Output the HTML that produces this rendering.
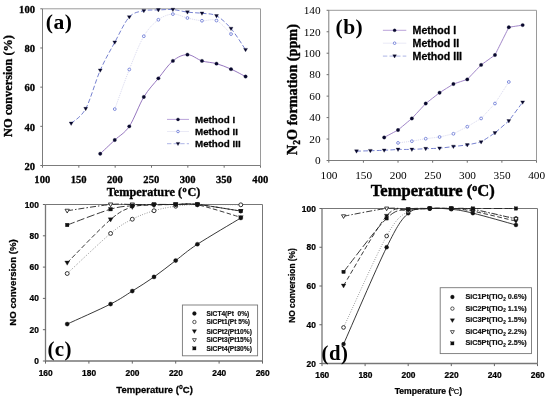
<!DOCTYPE html>
<html><head><meta charset="utf-8"><title>Figure</title>
<style>
html,body{margin:0;padding:0;background:#fff;}
body{width:550px;height:399px;overflow:hidden;font-family:"Liberation Sans",sans-serif;}
svg{display:block;filter:blur(0.35px);}
</style></head><body>
<svg width="550" height="399" viewBox="0 0 550 399">
<rect x="0" y="0" width="550" height="399" fill="#fff"/>
<!-- panel a -->
<path d="M42.5,8.8 H260.5 V165.5" fill="none" stroke="#9a9a9a" stroke-width="1.0"/>
<path d="M42.5,8.8 V165.5 H260.5" fill="none" stroke="#7c7c7c" stroke-width="1.0"/>
<path d="M42.5,165.5 v2.2" stroke="#6e6e6e" stroke-width="1.0"/>
<path d="M78.83,165.5 v2.2" stroke="#6e6e6e" stroke-width="1.0"/>
<path d="M115.17,165.5 v2.2" stroke="#6e6e6e" stroke-width="1.0"/>
<path d="M151.5,165.5 v2.2" stroke="#6e6e6e" stroke-width="1.0"/>
<path d="M187.83,165.5 v2.2" stroke="#6e6e6e" stroke-width="1.0"/>
<path d="M224.17,165.5 v2.2" stroke="#6e6e6e" stroke-width="1.0"/>
<path d="M260.5,165.5 v2.2" stroke="#6e6e6e" stroke-width="1.0"/>
<path d="M42.5,165.5 h-2.2" stroke="#6e6e6e" stroke-width="1.0"/>
<path d="M42.5,126.33 h-2.2" stroke="#6e6e6e" stroke-width="1.0"/>
<path d="M42.5,87.15 h-2.2" stroke="#6e6e6e" stroke-width="1.0"/>
<path d="M42.5,47.98 h-2.2" stroke="#6e6e6e" stroke-width="1.0"/>
<path d="M42.5,8.8 h-2.2" stroke="#6e6e6e" stroke-width="1.0"/>
<path d="M100.23,153.75 C102.66,151.46 109.92,144.61 114.77,140.04 C119.61,135.47 124.46,133.51 129.3,126.33 C134.14,119.14 138.99,104.94 143.83,96.94 C148.68,88.95 153.52,84.34 158.37,78.34 C163.21,72.33 168.06,64.85 172.9,60.9 C177.74,56.95 182.59,54.63 187.43,54.63 C192.28,54.63 197.12,59.4 201.97,60.9 C206.81,62.4 211.66,62.27 216.5,63.65 C221.34,65.02 226.19,66.97 231.03,69.13 C235.88,71.28 243.14,75.33 245.57,76.57" fill="none" stroke="#8a68b8" stroke-width="0.9"/>
<path d="M114.77,109.09 C117.19,102.49 124.46,81.67 129.3,69.52 C134.14,57.38 138.99,44.51 143.83,36.22 C148.68,27.93 153.52,23.46 158.37,19.77 C163.21,16.08 168.06,14.38 172.9,14.09 C177.74,13.79 182.59,16.9 187.43,18.01 C192.28,19.12 197.12,20.32 201.97,20.75 C206.81,21.17 211.66,18.33 216.5,20.55 C221.34,22.77 228.61,31.82 231.03,34.07" fill="none" stroke="#d4d4ec" stroke-width="0.9" stroke-dasharray="1 1"/>
<path d="M71.17,123.39 C73.59,120.94 80.86,117.54 85.7,108.7 C90.54,99.85 95.39,81.37 100.23,70.3 C105.08,59.24 109.92,51.17 114.77,42.29 C119.61,33.41 124.46,22.28 129.3,17.03 C134.14,11.77 138.99,11.93 143.83,10.76 C148.68,9.58 153.52,10.17 158.37,9.98 C163.21,9.78 168.06,9.22 172.9,9.58 C177.74,9.94 182.59,11.51 187.43,12.13 C192.28,12.75 197.12,12.68 201.97,13.31 C206.81,13.93 211.66,13.31 216.5,15.85 C221.34,18.4 226.19,22.94 231.03,28.58 C235.88,34.23 243.14,46.21 245.57,49.74" fill="none" stroke="#5f6bc8" stroke-width="0.85" stroke-dasharray="4.6 2.2"/>
<circle cx="100.23" cy="153.75" r="1.7" fill="#08082c" stroke="#08082c" stroke-width="0.3"/>
<circle cx="114.77" cy="140.04" r="1.7" fill="#08082c" stroke="#08082c" stroke-width="0.3"/>
<circle cx="129.3" cy="126.33" r="1.7" fill="#08082c" stroke="#08082c" stroke-width="0.3"/>
<circle cx="143.83" cy="96.94" r="1.7" fill="#08082c" stroke="#08082c" stroke-width="0.3"/>
<circle cx="158.37" cy="78.34" r="1.7" fill="#08082c" stroke="#08082c" stroke-width="0.3"/>
<circle cx="172.9" cy="60.9" r="1.7" fill="#08082c" stroke="#08082c" stroke-width="0.3"/>
<circle cx="187.43" cy="54.63" r="1.7" fill="#08082c" stroke="#08082c" stroke-width="0.3"/>
<circle cx="201.97" cy="60.9" r="1.7" fill="#08082c" stroke="#08082c" stroke-width="0.3"/>
<circle cx="216.5" cy="63.65" r="1.7" fill="#08082c" stroke="#08082c" stroke-width="0.3"/>
<circle cx="231.03" cy="69.13" r="1.7" fill="#08082c" stroke="#08082c" stroke-width="0.3"/>
<circle cx="245.57" cy="76.57" r="1.7" fill="#08082c" stroke="#08082c" stroke-width="0.3"/>
<circle cx="114.77" cy="109.09" r="1.4" fill="#fff" stroke="#5a6ad0" stroke-width="0.75"/>
<circle cx="129.3" cy="69.52" r="1.4" fill="#fff" stroke="#5a6ad0" stroke-width="0.75"/>
<circle cx="143.83" cy="36.22" r="1.4" fill="#fff" stroke="#5a6ad0" stroke-width="0.75"/>
<circle cx="158.37" cy="19.77" r="1.4" fill="#fff" stroke="#5a6ad0" stroke-width="0.75"/>
<circle cx="172.9" cy="14.09" r="1.4" fill="#fff" stroke="#5a6ad0" stroke-width="0.75"/>
<circle cx="187.43" cy="18.01" r="1.4" fill="#fff" stroke="#5a6ad0" stroke-width="0.75"/>
<circle cx="201.97" cy="20.75" r="1.4" fill="#fff" stroke="#5a6ad0" stroke-width="0.75"/>
<circle cx="216.5" cy="20.55" r="1.4" fill="#fff" stroke="#5a6ad0" stroke-width="0.75"/>
<circle cx="231.03" cy="34.07" r="1.4" fill="#fff" stroke="#5a6ad0" stroke-width="0.75"/>
<path d="M69.21,122.03 L73.12,122.03 L71.17,125.43 Z" fill="#08082c" stroke="#08082c" stroke-width="0.3"/>
<path d="M83.74,107.34 L87.65,107.34 L85.7,110.74 Z" fill="#08082c" stroke="#08082c" stroke-width="0.3"/>
<path d="M98.28,68.94 L102.19,68.94 L100.23,72.34 Z" fill="#08082c" stroke="#08082c" stroke-width="0.3"/>
<path d="M112.81,40.93 L116.72,40.93 L114.77,44.33 Z" fill="#08082c" stroke="#08082c" stroke-width="0.3"/>
<path d="M127.34,15.67 L131.25,15.67 L129.3,19.07 Z" fill="#08082c" stroke="#08082c" stroke-width="0.3"/>
<path d="M141.88,9.4 L145.79,9.4 L143.83,12.8 Z" fill="#08082c" stroke="#08082c" stroke-width="0.3"/>
<path d="M156.41,8.62 L160.32,8.62 L158.37,12.02 Z" fill="#08082c" stroke="#08082c" stroke-width="0.3"/>
<path d="M170.94,8.22 L174.85,8.22 L172.9,11.62 Z" fill="#08082c" stroke="#08082c" stroke-width="0.3"/>
<path d="M185.48,10.77 L189.39,10.77 L187.43,14.17 Z" fill="#08082c" stroke="#08082c" stroke-width="0.3"/>
<path d="M200.01,11.95 L203.92,11.95 L201.97,15.35 Z" fill="#08082c" stroke="#08082c" stroke-width="0.3"/>
<path d="M214.54,14.49 L218.46,14.49 L216.5,17.89 Z" fill="#08082c" stroke="#08082c" stroke-width="0.3"/>
<path d="M229.08,27.22 L232.99,27.22 L231.03,30.62 Z" fill="#08082c" stroke="#08082c" stroke-width="0.3"/>
<path d="M243.61,48.38 L247.52,48.38 L245.57,51.78 Z" fill="#08082c" stroke="#08082c" stroke-width="0.3"/>
<path d="M167,119.4 H189" stroke="#a88cd0" stroke-width="0.8"/>
<path d="M167,131.5 H189" stroke="#e4e4f4" stroke-width="0.8"/>
<path d="M167,143.7 H189" stroke="#98a2e0" stroke-width="0.8" stroke-dasharray="4.4 2.2"/>
<circle cx="178" cy="119.4" r="1.5" fill="#08082c" stroke="#08082c" stroke-width="0.3"/>
<circle cx="178" cy="131.5" r="1.3" fill="#fff" stroke="#5a6ad0" stroke-width="0.75"/>
<path d="M176.16,142.42 L179.84,142.42 L178,145.62 Z" fill="#08082c" stroke="#08082c" stroke-width="0.3"/>
<text x="195" y="122.93" font-family='"Liberation Sans", sans-serif' font-size="9.8" font-weight="bold" text-anchor="start" fill="#000" stroke="#000" stroke-width="0.27" stroke-linejoin="round" >Method I</text>
<text x="195" y="135.03" font-family='"Liberation Sans", sans-serif' font-size="9.8" font-weight="bold" text-anchor="start" fill="#000" stroke="#000" stroke-width="0.27" stroke-linejoin="round" >Method II</text>
<text x="195" y="147.23" font-family='"Liberation Sans", sans-serif' font-size="9.8" font-weight="bold" text-anchor="start" fill="#000" stroke="#000" stroke-width="0.27" stroke-linejoin="round" >Method III</text>
<text x="42.3" y="183.2" font-family='"Liberation Serif", serif' font-size="10.6" font-weight="bold" text-anchor="middle" fill="#000" stroke="#000" stroke-width="0.3" stroke-linejoin="round" >100</text>
<text x="78.63" y="183.2" font-family='"Liberation Serif", serif' font-size="10.6" font-weight="bold" text-anchor="middle" fill="#000" stroke="#000" stroke-width="0.3" stroke-linejoin="round" >150</text>
<text x="114.97" y="183.2" font-family='"Liberation Serif", serif' font-size="10.6" font-weight="bold" text-anchor="middle" fill="#000" stroke="#000" stroke-width="0.3" stroke-linejoin="round" >200</text>
<text x="151.3" y="183.2" font-family='"Liberation Serif", serif' font-size="10.6" font-weight="bold" text-anchor="middle" fill="#000" stroke="#000" stroke-width="0.3" stroke-linejoin="round" >250</text>
<text x="187.63" y="183.2" font-family='"Liberation Serif", serif' font-size="10.6" font-weight="bold" text-anchor="middle" fill="#000" stroke="#000" stroke-width="0.3" stroke-linejoin="round" >300</text>
<text x="223.97" y="183.2" font-family='"Liberation Serif", serif' font-size="10.6" font-weight="bold" text-anchor="middle" fill="#000" stroke="#000" stroke-width="0.3" stroke-linejoin="round" >350</text>
<text x="260.3" y="183.2" font-family='"Liberation Serif", serif' font-size="10.6" font-weight="bold" text-anchor="middle" fill="#000" stroke="#000" stroke-width="0.3" stroke-linejoin="round" >400</text>
<text x="35" y="169.8" font-family='"Liberation Serif", serif' font-size="10.6" font-weight="bold" text-anchor="end" fill="#000" stroke="#000" stroke-width="0.3" stroke-linejoin="round" >20</text>
<text x="35" y="130.62" font-family='"Liberation Serif", serif' font-size="10.6" font-weight="bold" text-anchor="end" fill="#000" stroke="#000" stroke-width="0.3" stroke-linejoin="round" >40</text>
<text x="35" y="91.45" font-family='"Liberation Serif", serif' font-size="10.6" font-weight="bold" text-anchor="end" fill="#000" stroke="#000" stroke-width="0.3" stroke-linejoin="round" >60</text>
<text x="35" y="52.28" font-family='"Liberation Serif", serif' font-size="10.6" font-weight="bold" text-anchor="end" fill="#000" stroke="#000" stroke-width="0.3" stroke-linejoin="round" >80</text>
<text x="35" y="13.1" font-family='"Liberation Serif", serif' font-size="10.6" font-weight="bold" text-anchor="end" fill="#000" stroke="#000" stroke-width="0.3" stroke-linejoin="round" >100</text>
<text x="153.6" y="196.2" font-family='"Liberation Serif", serif' font-size="12.25" font-weight="bold" text-anchor="middle" fill="#000" stroke="#000" stroke-width="0.34" stroke-linejoin="round" >Temperature (<tspan font-size="8.2" dy="-4.6" dx="0.6">o</tspan><tspan dy="4.6" dx="0.8">C)</tspan></text>
<text x="11.6" y="86" font-family='"Liberation Serif", serif' font-size="12.3" font-weight="bold" text-anchor="middle" fill="#000" stroke="#000" stroke-width="0.34" stroke-linejoin="round" transform="rotate(-90 11.6 86)" >NO conversion (%)</text>
<text x="45.8" y="28.5" font-family='"Liberation Serif", serif' font-size="21.6" font-weight="bold" text-anchor="start" fill="#000" letter-spacing="0.45" >(a)</text>
<!-- panel b -->
<path d="M328.8,10.3 H536.5 V160.5" fill="none" stroke="#9a9a9a" stroke-width="1.0"/>
<path d="M328.8,10.3 V160.5 H536.5" fill="none" stroke="#7c7c7c" stroke-width="1.0"/>
<path d="M328.8,160.5 v2.2" stroke="#6e6e6e" stroke-width="1.0"/>
<path d="M363.42,160.5 v2.2" stroke="#6e6e6e" stroke-width="1.0"/>
<path d="M398.03,160.5 v2.2" stroke="#6e6e6e" stroke-width="1.0"/>
<path d="M432.65,160.5 v2.2" stroke="#6e6e6e" stroke-width="1.0"/>
<path d="M467.27,160.5 v2.2" stroke="#6e6e6e" stroke-width="1.0"/>
<path d="M501.88,160.5 v2.2" stroke="#6e6e6e" stroke-width="1.0"/>
<path d="M536.5,160.5 v2.2" stroke="#6e6e6e" stroke-width="1.0"/>
<path d="M328.8,160.5 h-2.2" stroke="#6e6e6e" stroke-width="1.0"/>
<path d="M328.8,139.04 h-2.2" stroke="#6e6e6e" stroke-width="1.0"/>
<path d="M328.8,117.59 h-2.2" stroke="#6e6e6e" stroke-width="1.0"/>
<path d="M328.8,96.13 h-2.2" stroke="#6e6e6e" stroke-width="1.0"/>
<path d="M328.8,74.67 h-2.2" stroke="#6e6e6e" stroke-width="1.0"/>
<path d="M328.8,53.21 h-2.2" stroke="#6e6e6e" stroke-width="1.0"/>
<path d="M328.8,31.76 h-2.2" stroke="#6e6e6e" stroke-width="1.0"/>
<path d="M328.8,10.3 h-2.2" stroke="#6e6e6e" stroke-width="1.0"/>
<path d="M384.19,137.43 C384.19,137.43 398.03,130.03 398.03,130.03 C398.03,130.03 411.88,118.44 411.88,118.44 C411.88,118.44 425.73,103.53 425.73,103.53 C425.73,103.53 439.57,92.7 439.57,92.7 C439.57,92.7 453.42,84.01 453.42,84.01 C453.42,84.01 467.27,79.39 467.27,79.39 C467.27,79.39 481.11,64.91 481.11,64.91 C481.11,64.91 494.96,55.04 494.96,55.04 C494.96,55.04 508.81,27.25 508.81,27.25 C508.81,27.25 522.65,25.11 522.65,25.11" fill="none" stroke="#9678c2" stroke-width="0.9"/>
<path d="M398.03,142.91 C398.03,142.91 411.88,141.19 411.88,141.19 C411.88,141.19 425.73,138.72 425.73,138.72 C425.73,138.72 439.57,137 439.57,137 C439.57,137 453.42,133.79 453.42,133.79 C453.42,133.79 467.27,126.7 467.27,126.7 C467.27,126.7 481.11,118.44 481.11,118.44 C481.11,118.44 494.96,103.53 494.96,103.53 C494.96,103.53 508.81,81.97 508.81,81.97" fill="none" stroke="#d4d4ec" stroke-width="0.9" stroke-dasharray="1 1"/>
<path d="M356.49,151.17 C356.49,151.17 370.34,150.74 370.34,150.74 C370.34,150.74 384.19,150.31 384.19,150.31 C384.19,150.31 398.03,149.45 398.03,149.45 C398.03,149.45 411.88,149.45 411.88,149.45 C411.88,149.45 425.73,148.7 425.73,148.7 C425.73,148.7 439.57,148.27 439.57,148.27 C439.57,148.27 453.42,146.55 453.42,146.55 C453.42,146.55 467.27,144.94 467.27,144.94 C467.27,144.94 481.11,142.05 481.11,142.05 C481.11,142.05 494.96,132.93 494.96,132.93 C494.96,132.93 508.81,120.91 508.81,120.91 C508.81,120.91 522.65,102.24 522.65,102.24" fill="none" stroke="#5f6bc8" stroke-width="0.85" stroke-dasharray="4.6 2.2"/>
<circle cx="384.19" cy="137.43" r="1.7" fill="#08082c" stroke="#08082c" stroke-width="0.3"/>
<circle cx="398.03" cy="130.03" r="1.7" fill="#08082c" stroke="#08082c" stroke-width="0.3"/>
<circle cx="411.88" cy="118.44" r="1.7" fill="#08082c" stroke="#08082c" stroke-width="0.3"/>
<circle cx="425.73" cy="103.53" r="1.7" fill="#08082c" stroke="#08082c" stroke-width="0.3"/>
<circle cx="439.57" cy="92.7" r="1.7" fill="#08082c" stroke="#08082c" stroke-width="0.3"/>
<circle cx="453.42" cy="84.01" r="1.7" fill="#08082c" stroke="#08082c" stroke-width="0.3"/>
<circle cx="467.27" cy="79.39" r="1.7" fill="#08082c" stroke="#08082c" stroke-width="0.3"/>
<circle cx="481.11" cy="64.91" r="1.7" fill="#08082c" stroke="#08082c" stroke-width="0.3"/>
<circle cx="494.96" cy="55.04" r="1.7" fill="#08082c" stroke="#08082c" stroke-width="0.3"/>
<circle cx="508.81" cy="27.25" r="1.7" fill="#08082c" stroke="#08082c" stroke-width="0.3"/>
<circle cx="522.65" cy="25.11" r="1.7" fill="#08082c" stroke="#08082c" stroke-width="0.3"/>
<circle cx="398.03" cy="142.91" r="1.4" fill="#fff" stroke="#5a6ad0" stroke-width="0.75"/>
<circle cx="411.88" cy="141.19" r="1.4" fill="#fff" stroke="#5a6ad0" stroke-width="0.75"/>
<circle cx="425.73" cy="138.72" r="1.4" fill="#fff" stroke="#5a6ad0" stroke-width="0.75"/>
<circle cx="439.57" cy="137" r="1.4" fill="#fff" stroke="#5a6ad0" stroke-width="0.75"/>
<circle cx="453.42" cy="133.79" r="1.4" fill="#fff" stroke="#5a6ad0" stroke-width="0.75"/>
<circle cx="467.27" cy="126.7" r="1.4" fill="#fff" stroke="#5a6ad0" stroke-width="0.75"/>
<circle cx="481.11" cy="118.44" r="1.4" fill="#fff" stroke="#5a6ad0" stroke-width="0.75"/>
<circle cx="494.96" cy="103.53" r="1.4" fill="#fff" stroke="#5a6ad0" stroke-width="0.75"/>
<circle cx="508.81" cy="81.97" r="1.4" fill="#fff" stroke="#5a6ad0" stroke-width="0.75"/>
<path d="M354.54,149.81 L358.45,149.81 L356.49,153.21 Z" fill="#08082c" stroke="#08082c" stroke-width="0.3"/>
<path d="M368.39,149.38 L372.3,149.38 L370.34,152.78 Z" fill="#08082c" stroke="#08082c" stroke-width="0.3"/>
<path d="M382.23,148.95 L386.14,148.95 L384.19,152.35 Z" fill="#08082c" stroke="#08082c" stroke-width="0.3"/>
<path d="M396.08,148.09 L399.99,148.09 L398.03,151.49 Z" fill="#08082c" stroke="#08082c" stroke-width="0.3"/>
<path d="M409.93,148.09 L413.83,148.09 L411.88,151.49 Z" fill="#08082c" stroke="#08082c" stroke-width="0.3"/>
<path d="M423.77,147.34 L427.68,147.34 L425.73,150.74 Z" fill="#08082c" stroke="#08082c" stroke-width="0.3"/>
<path d="M437.62,146.91 L441.53,146.91 L439.57,150.31 Z" fill="#08082c" stroke="#08082c" stroke-width="0.3"/>
<path d="M451.47,145.19 L455.38,145.19 L453.42,148.59 Z" fill="#08082c" stroke="#08082c" stroke-width="0.3"/>
<path d="M465.31,143.58 L469.22,143.58 L467.27,146.98 Z" fill="#08082c" stroke="#08082c" stroke-width="0.3"/>
<path d="M479.16,140.69 L483.07,140.69 L481.11,144.09 Z" fill="#08082c" stroke="#08082c" stroke-width="0.3"/>
<path d="M493.01,131.57 L496.92,131.57 L494.96,134.97 Z" fill="#08082c" stroke="#08082c" stroke-width="0.3"/>
<path d="M506.85,119.55 L510.76,119.55 L508.81,122.95 Z" fill="#08082c" stroke="#08082c" stroke-width="0.3"/>
<path d="M520.7,100.88 L524.61,100.88 L522.65,104.28 Z" fill="#08082c" stroke="#08082c" stroke-width="0.3"/>
<path d="M382.9,30.3 H406.3" stroke="#a88cd0" stroke-width="0.8"/>
<path d="M382.9,43.2 H406.3" stroke="#e4e4f4" stroke-width="0.8"/>
<path d="M382.9,56.1 H406.3" stroke="#98a2e0" stroke-width="0.8" stroke-dasharray="4.4 2.2"/>
<circle cx="394.6" cy="30.3" r="1.5" fill="#08082c" stroke="#08082c" stroke-width="0.3"/>
<circle cx="394.6" cy="43.2" r="1.3" fill="#fff" stroke="#5a6ad0" stroke-width="0.75"/>
<path d="M392.76,54.82 L396.44,54.82 L394.6,58.02 Z" fill="#08082c" stroke="#08082c" stroke-width="0.3"/>
<text x="412.6" y="34.12" font-family='"Liberation Sans", sans-serif' font-size="10.6" font-weight="bold" text-anchor="start" fill="#000" stroke="#000" stroke-width="0.3" stroke-linejoin="round" >Method I</text>
<text x="412.6" y="47.02" font-family='"Liberation Sans", sans-serif' font-size="10.6" font-weight="bold" text-anchor="start" fill="#000" stroke="#000" stroke-width="0.3" stroke-linejoin="round" >Method II</text>
<text x="412.6" y="59.92" font-family='"Liberation Sans", sans-serif' font-size="10.6" font-weight="bold" text-anchor="start" fill="#000" stroke="#000" stroke-width="0.3" stroke-linejoin="round" >Method III</text>
<text x="329" y="178.9" font-family='"Liberation Serif", serif' font-size="11.3" font-weight="normal" text-anchor="middle" fill="#000" >100</text>
<text x="363.62" y="178.9" font-family='"Liberation Serif", serif' font-size="11.3" font-weight="normal" text-anchor="middle" fill="#000" >150</text>
<text x="398.23" y="178.9" font-family='"Liberation Serif", serif' font-size="11.3" font-weight="normal" text-anchor="middle" fill="#000" >200</text>
<text x="432.85" y="178.9" font-family='"Liberation Serif", serif' font-size="11.3" font-weight="normal" text-anchor="middle" fill="#000" >250</text>
<text x="467.47" y="178.9" font-family='"Liberation Serif", serif' font-size="11.3" font-weight="normal" text-anchor="middle" fill="#000" >300</text>
<text x="502.08" y="178.9" font-family='"Liberation Serif", serif' font-size="11.3" font-weight="normal" text-anchor="middle" fill="#000" >350</text>
<text x="536.7" y="178.9" font-family='"Liberation Serif", serif' font-size="11.3" font-weight="normal" text-anchor="middle" fill="#000" >400</text>
<text x="320.6" y="164.3" font-family='"Liberation Serif", serif' font-size="11.3" font-weight="normal" text-anchor="end" fill="#000" >0</text>
<text x="320.6" y="142.84" font-family='"Liberation Serif", serif' font-size="11.3" font-weight="normal" text-anchor="end" fill="#000" >20</text>
<text x="320.6" y="121.39" font-family='"Liberation Serif", serif' font-size="11.3" font-weight="normal" text-anchor="end" fill="#000" >40</text>
<text x="320.6" y="99.93" font-family='"Liberation Serif", serif' font-size="11.3" font-weight="normal" text-anchor="end" fill="#000" >60</text>
<text x="320.6" y="78.47" font-family='"Liberation Serif", serif' font-size="11.3" font-weight="normal" text-anchor="end" fill="#000" >80</text>
<text x="320.6" y="57.01" font-family='"Liberation Serif", serif' font-size="11.3" font-weight="normal" text-anchor="end" fill="#000" >100</text>
<text x="320.6" y="35.56" font-family='"Liberation Serif", serif' font-size="11.3" font-weight="normal" text-anchor="end" fill="#000" >120</text>
<text x="320.6" y="14.1" font-family='"Liberation Serif", serif' font-size="11.3" font-weight="normal" text-anchor="end" fill="#000" >140</text>
<text x="432.8" y="196.4" font-family='"Liberation Serif", serif' font-size="16.55" font-weight="bold" text-anchor="middle" fill="#000" stroke="#000" stroke-width="0.46" stroke-linejoin="round" >Temperature (<tspan font-size="10" dy="-5">o</tspan><tspan dy="5">C)</tspan></text>
<text x="297" y="89.5" font-family='"Liberation Serif", serif' font-size="14.2" font-weight="bold" text-anchor="middle" fill="#000" stroke="#000" stroke-width="0.4" stroke-linejoin="round" transform="rotate(-90 297 89.5)" >N<tspan font-size="9.5" dy="3">2</tspan><tspan dy="-3">O formation (ppm)</tspan></text>
<text x="335.6" y="34" font-family='"Liberation Serif", serif' font-size="21.5" font-weight="bold" text-anchor="start" fill="#000" letter-spacing="0.45" >(b)</text>
<!-- panel c -->
<path d="M45.5,204.5 H262.5 V361" fill="none" stroke="#777" stroke-width="1.0"/>
<path d="M45.5,204.5 V361 H262.5" fill="none" stroke="#777" stroke-width="1.3"/>
<path d="M45.5,361 v2.6" stroke="#666" stroke-width="1.0"/>
<path d="M88.9,361 v2.6" stroke="#666" stroke-width="1.0"/>
<path d="M132.3,361 v2.6" stroke="#666" stroke-width="1.0"/>
<path d="M175.7,361 v2.6" stroke="#666" stroke-width="1.0"/>
<path d="M219.1,361 v2.6" stroke="#666" stroke-width="1.0"/>
<path d="M262.5,361 v2.6" stroke="#666" stroke-width="1.0"/>
<path d="M45.5,361 h-2.6" stroke="#666" stroke-width="1.0"/>
<path d="M45.5,329.7 h-2.6" stroke="#666" stroke-width="1.0"/>
<path d="M45.5,298.4 h-2.6" stroke="#666" stroke-width="1.0"/>
<path d="M45.5,267.1 h-2.6" stroke="#666" stroke-width="1.0"/>
<path d="M45.5,235.8 h-2.6" stroke="#666" stroke-width="1.0"/>
<path d="M45.5,204.5 h-2.6" stroke="#666" stroke-width="1.0"/>
<path d="M67.2,324.07 C74.43,320.73 99.75,309.54 110.6,304.03 C121.45,298.53 125.07,295.56 132.3,291.04 C139.53,286.53 146.77,282.05 154,276.96 C161.23,271.87 168.47,265.98 175.7,260.53 C182.93,255.08 186.55,251.35 197.4,244.25 C208.25,237.16 233.57,222.34 240.8,217.96" fill="none" stroke="#222" stroke-width="0.9"/>
<path d="M67.2,273.52 C74.43,266.84 99.75,242.5 110.6,233.45 C121.45,224.4 125.07,222.99 132.3,219.21 C139.53,215.43 146.77,212.92 154,210.76 C161.23,208.6 168.47,207.26 175.7,206.22 C182.93,205.18 186.55,204.73 197.4,204.5 C208.25,204.27 233.57,204.76 240.8,204.81" fill="none" stroke="#777" stroke-width="0.9" stroke-dasharray="0.8 1.6"/>
<path d="M67.2,262.72 C74.43,255.52 99.75,228.81 110.6,219.52 C121.45,210.24 125.07,209.4 132.3,207 C139.53,204.6 146.77,205.54 154,205.13 C161.23,204.71 168.47,204.55 175.7,204.5 C182.93,204.45 186.55,202.67 197.4,204.81 C208.25,206.95 233.57,215.25 240.8,217.33" fill="none" stroke="#222" stroke-width="0.9" stroke-dasharray="4.6 2.4"/>
<path d="M67.2,210.76 C74.43,209.72 99.75,205.54 110.6,204.5 C121.45,203.46 125.07,204.5 132.3,204.5 C139.53,204.5 146.77,204.5 154,204.5 C161.23,204.5 168.47,204.5 175.7,204.5 C182.93,204.5 186.55,203.4 197.4,204.5 C208.25,205.6 233.57,209.98 240.8,211.07" fill="none" stroke="#222" stroke-width="0.9" stroke-dasharray="6 2 1.5 2"/>
<path d="M67.2,225 C74.43,222.37 99.75,212.4 110.6,209.19 C121.45,205.99 125.07,206.53 132.3,205.75 C139.53,204.97 146.77,204.71 154,204.5 C161.23,204.29 168.47,204.5 175.7,204.5 C182.93,204.5 186.55,203.4 197.4,204.5 C208.25,205.6 233.57,209.98 240.8,211.07" fill="none" stroke="#222" stroke-width="0.9" stroke-dasharray="8 2.5"/>
<circle cx="67.2" cy="324.07" r="2.1" fill="#111" stroke="#111" stroke-width="0.3"/>
<circle cx="110.6" cy="304.03" r="2.1" fill="#111" stroke="#111" stroke-width="0.3"/>
<circle cx="132.3" cy="291.04" r="2.1" fill="#111" stroke="#111" stroke-width="0.3"/>
<circle cx="154" cy="276.96" r="2.1" fill="#111" stroke="#111" stroke-width="0.3"/>
<circle cx="175.7" cy="260.53" r="2.1" fill="#111" stroke="#111" stroke-width="0.3"/>
<circle cx="197.4" cy="244.25" r="2.1" fill="#111" stroke="#111" stroke-width="0.3"/>
<circle cx="240.8" cy="217.96" r="2.1" fill="#111" stroke="#111" stroke-width="0.3"/>
<circle cx="67.2" cy="273.52" r="1.95" fill="#fff" stroke="#111" stroke-width="0.85"/>
<circle cx="110.6" cy="233.45" r="1.95" fill="#fff" stroke="#111" stroke-width="0.85"/>
<circle cx="132.3" cy="219.21" r="1.95" fill="#fff" stroke="#111" stroke-width="0.85"/>
<circle cx="154" cy="210.76" r="1.95" fill="#fff" stroke="#111" stroke-width="0.85"/>
<circle cx="175.7" cy="206.22" r="1.95" fill="#fff" stroke="#111" stroke-width="0.85"/>
<circle cx="197.4" cy="204.5" r="1.95" fill="#fff" stroke="#111" stroke-width="0.85"/>
<circle cx="240.8" cy="204.81" r="1.95" fill="#fff" stroke="#111" stroke-width="0.85"/>
<path d="M64.78,261.04 L69.62,261.04 L67.2,265.24 Z" fill="#111" stroke="#111" stroke-width="0.3"/>
<path d="M108.18,217.84 L113.02,217.84 L110.6,222.04 Z" fill="#111" stroke="#111" stroke-width="0.3"/>
<path d="M129.89,205.32 L134.72,205.32 L132.3,209.52 Z" fill="#111" stroke="#111" stroke-width="0.3"/>
<path d="M151.59,203.45 L156.41,203.45 L154,207.65 Z" fill="#111" stroke="#111" stroke-width="0.3"/>
<path d="M173.28,202.82 L178.11,202.82 L175.7,207.02 Z" fill="#111" stroke="#111" stroke-width="0.3"/>
<path d="M194.98,203.13 L199.81,203.13 L197.4,207.33 Z" fill="#111" stroke="#111" stroke-width="0.3"/>
<path d="M238.39,215.65 L243.22,215.65 L240.8,219.85 Z" fill="#111" stroke="#111" stroke-width="0.3"/>
<path d="M65.02,209.24 L69.39,209.24 L67.2,213.04 Z" fill="#fff" stroke="#111" stroke-width="0.8"/>
<path d="M108.41,202.98 L112.78,202.98 L110.6,206.78 Z" fill="#fff" stroke="#111" stroke-width="0.8"/>
<path d="M130.12,202.98 L134.49,202.98 L132.3,206.78 Z" fill="#fff" stroke="#111" stroke-width="0.8"/>
<path d="M151.81,202.98 L156.19,202.98 L154,206.78 Z" fill="#fff" stroke="#111" stroke-width="0.8"/>
<path d="M173.51,202.98 L177.88,202.98 L175.7,206.78 Z" fill="#fff" stroke="#111" stroke-width="0.8"/>
<path d="M195.21,202.98 L199.58,202.98 L197.4,206.78 Z" fill="#fff" stroke="#111" stroke-width="0.8"/>
<path d="M238.62,209.55 L242.99,209.55 L240.8,213.35 Z" fill="#fff" stroke="#111" stroke-width="0.8"/>
<rect x="65.4" y="223.2" width="3.6" height="3.6" fill="#111" stroke="#111" stroke-width="0.3"/>
<rect x="108.8" y="207.39" width="3.6" height="3.6" fill="#111" stroke="#111" stroke-width="0.3"/>
<rect x="130.5" y="203.95" width="3.6" height="3.6" fill="#111" stroke="#111" stroke-width="0.3"/>
<rect x="152.2" y="202.7" width="3.6" height="3.6" fill="#111" stroke="#111" stroke-width="0.3"/>
<rect x="173.9" y="202.7" width="3.6" height="3.6" fill="#111" stroke="#111" stroke-width="0.3"/>
<rect x="195.6" y="202.7" width="3.6" height="3.6" fill="#111" stroke="#111" stroke-width="0.3"/>
<rect x="239" y="209.27" width="3.6" height="3.6" fill="#111" stroke="#111" stroke-width="0.3"/>
<rect x="182.4" y="305" width="75.2" height="50.8" fill="#fff" stroke="#777" stroke-width="0.9"/>
<circle cx="194.4" cy="313.5" r="1.9" fill="#111" stroke="#111" stroke-width="0.3"/>
<text x="206.4" y="315.88" font-family='"Liberation Sans", sans-serif' font-size="6.6" font-weight="bold" text-anchor="start" fill="#111" stroke="#111" stroke-width="0.18" stroke-linejoin="round" >SiCT4(Pt&#160; 0%)</text>
<circle cx="194.4" cy="322" r="1.7" fill="#fff" stroke="#111" stroke-width="0.7"/>
<text x="206.4" y="324.38" font-family='"Liberation Sans", sans-serif' font-size="6.6" font-weight="bold" text-anchor="start" fill="#111" stroke="#111" stroke-width="0.18" stroke-linejoin="round" >SiCPt1(Pt 5%)</text>
<path d="M192.22,329.68 L196.59,329.68 L194.4,333.48 Z" fill="#111" stroke="#111" stroke-width="0.3"/>
<text x="206.4" y="333.58" font-family='"Liberation Sans", sans-serif' font-size="6.6" font-weight="bold" text-anchor="start" fill="#111" stroke="#111" stroke-width="0.18" stroke-linejoin="round" >SiCPt2(Pt10%)</text>
<path d="M192.44,338.64 L196.36,338.64 L194.4,342.04 Z" fill="#fff" stroke="#111" stroke-width="0.7"/>
<text x="206.4" y="342.38" font-family='"Liberation Sans", sans-serif' font-size="6.6" font-weight="bold" text-anchor="start" fill="#111" stroke="#111" stroke-width="0.18" stroke-linejoin="round" >SiCPt3(Pt15%)</text>
<rect x="192.8" y="346.8" width="3.2" height="3.2" fill="#111" stroke="#111" stroke-width="0.3"/>
<text x="206.4" y="350.78" font-family='"Liberation Sans", sans-serif' font-size="6.6" font-weight="bold" text-anchor="start" fill="#111" stroke="#111" stroke-width="0.18" stroke-linejoin="round" >SiCPt4(Pt30%)</text>
<text x="45.7" y="376" font-family='"Liberation Sans", sans-serif' font-size="8.4" font-weight="bold" text-anchor="middle" fill="#000" stroke="#000" stroke-width="0.24" stroke-linejoin="round" >160</text>
<text x="89.1" y="376" font-family='"Liberation Sans", sans-serif' font-size="8.4" font-weight="bold" text-anchor="middle" fill="#000" stroke="#000" stroke-width="0.24" stroke-linejoin="round" >180</text>
<text x="132.5" y="376" font-family='"Liberation Sans", sans-serif' font-size="8.4" font-weight="bold" text-anchor="middle" fill="#000" stroke="#000" stroke-width="0.24" stroke-linejoin="round" >200</text>
<text x="175.9" y="376" font-family='"Liberation Sans", sans-serif' font-size="8.4" font-weight="bold" text-anchor="middle" fill="#000" stroke="#000" stroke-width="0.24" stroke-linejoin="round" >220</text>
<text x="219.3" y="376" font-family='"Liberation Sans", sans-serif' font-size="8.4" font-weight="bold" text-anchor="middle" fill="#000" stroke="#000" stroke-width="0.24" stroke-linejoin="round" >240</text>
<text x="262.7" y="376" font-family='"Liberation Sans", sans-serif' font-size="8.4" font-weight="bold" text-anchor="middle" fill="#000" stroke="#000" stroke-width="0.24" stroke-linejoin="round" >260</text>
<text x="38.8" y="364" font-family='"Liberation Sans", sans-serif' font-size="8.4" font-weight="bold" text-anchor="end" fill="#000" stroke="#000" stroke-width="0.24" stroke-linejoin="round" >0</text>
<text x="38.8" y="332.7" font-family='"Liberation Sans", sans-serif' font-size="8.4" font-weight="bold" text-anchor="end" fill="#000" stroke="#000" stroke-width="0.24" stroke-linejoin="round" >20</text>
<text x="38.8" y="301.4" font-family='"Liberation Sans", sans-serif' font-size="8.4" font-weight="bold" text-anchor="end" fill="#000" stroke="#000" stroke-width="0.24" stroke-linejoin="round" >40</text>
<text x="38.8" y="270.1" font-family='"Liberation Sans", sans-serif' font-size="8.4" font-weight="bold" text-anchor="end" fill="#000" stroke="#000" stroke-width="0.24" stroke-linejoin="round" >60</text>
<text x="38.8" y="238.8" font-family='"Liberation Sans", sans-serif' font-size="8.4" font-weight="bold" text-anchor="end" fill="#000" stroke="#000" stroke-width="0.24" stroke-linejoin="round" >80</text>
<text x="38.8" y="207.5" font-family='"Liberation Sans", sans-serif' font-size="8.4" font-weight="bold" text-anchor="end" fill="#000" stroke="#000" stroke-width="0.24" stroke-linejoin="round" >100</text>
<text x="154.6" y="393" font-family='"Liberation Sans", sans-serif' font-size="9.5" font-weight="bold" text-anchor="middle" fill="#000" stroke="#000" stroke-width="0.27" stroke-linejoin="round" >Temperature (<tspan font-size="6.3" dy="-4.0">o</tspan><tspan dy="4.0">C)</tspan></text>
<text x="16.4" y="282.5" font-family='"Liberation Sans", sans-serif' font-size="9.7" font-weight="bold" text-anchor="middle" fill="#000" stroke="#000" stroke-width="0.27" stroke-linejoin="round" transform="rotate(-90 16.4 282.5)" >NO conversion (%)</text>
<text x="47.4" y="355.8" font-family='"Liberation Serif", serif' font-size="21" font-weight="bold" text-anchor="start" fill="#000" letter-spacing="0.45" >(c)</text>
<!-- panel d -->
<path d="M322,208.5 H537.5 V363.5" fill="none" stroke="#777" stroke-width="1.0"/>
<path d="M322,208.5 V363.5 H537.5" fill="none" stroke="#777" stroke-width="1.3"/>
<path d="M322,363.5 v2.6" stroke="#666" stroke-width="1.0"/>
<path d="M365.1,363.5 v2.6" stroke="#666" stroke-width="1.0"/>
<path d="M408.2,363.5 v2.6" stroke="#666" stroke-width="1.0"/>
<path d="M451.3,363.5 v2.6" stroke="#666" stroke-width="1.0"/>
<path d="M494.4,363.5 v2.6" stroke="#666" stroke-width="1.0"/>
<path d="M537.5,363.5 v2.6" stroke="#666" stroke-width="1.0"/>
<path d="M322,363.5 h-2.6" stroke="#666" stroke-width="1.0"/>
<path d="M322,324.75 h-2.6" stroke="#666" stroke-width="1.0"/>
<path d="M322,286 h-2.6" stroke="#666" stroke-width="1.0"/>
<path d="M322,247.25 h-2.6" stroke="#666" stroke-width="1.0"/>
<path d="M322,208.5 h-2.6" stroke="#666" stroke-width="1.0"/>
<path d="M343.55,344.12 C350.73,327.98 375.88,269.05 386.65,247.25 C397.42,225.45 401.02,219.8 408.2,213.34 C415.38,206.89 422.57,209.18 429.75,208.5 C436.93,207.82 444.12,208.5 451.3,209.28 C458.48,210.05 462.07,210.53 472.85,213.15 C483.63,215.77 508.77,223 515.95,224.97" fill="none" stroke="#222" stroke-width="0.9"/>
<path d="M343.55,327.46 C350.73,312.22 375.88,255.36 386.65,236.01 C397.42,216.67 401.02,215.99 408.2,211.41 C415.38,206.82 422.57,208.98 429.75,208.5 C436.93,208.02 444.12,208.18 451.3,208.5 C458.48,208.82 462.07,208.79 472.85,210.44 C483.63,212.08 508.77,217.06 515.95,218.38" fill="none" stroke="#777" stroke-width="0.9" stroke-dasharray="0.8 1.6"/>
<path d="M343.55,285.61 C350.73,273.99 375.88,228.39 386.65,215.86 C397.42,203.33 401.02,211.66 408.2,210.44 C415.38,209.21 422.57,208.82 429.75,208.5 C436.93,208.18 444.12,208.05 451.3,208.5 C458.48,208.95 462.07,209.11 472.85,211.21 C483.63,213.31 508.77,219.45 515.95,221.09" fill="none" stroke="#222" stroke-width="0.9" stroke-dasharray="4.6 2.4"/>
<path d="M343.55,216.25 C350.73,214.96 375.88,209.66 386.65,208.5 C397.42,207.34 401.02,209.28 408.2,209.28 C415.38,209.28 422.57,208.63 429.75,208.5 C436.93,208.37 444.12,208.37 451.3,208.5 C458.48,208.63 462.07,207.53 472.85,209.28 C483.63,211.02 508.77,217.35 515.95,218.96" fill="none" stroke="#222" stroke-width="0.9" stroke-dasharray="6 2 1.5 2"/>
<path d="M343.55,271.86 C350.73,262.94 375.88,228.81 386.65,218.38 C397.42,207.95 401.02,210.92 408.2,209.28 C415.38,207.63 422.57,208.63 429.75,208.5 C436.93,208.37 444.12,208.5 451.3,208.5 C458.48,208.5 462.07,208.5 472.85,208.5 C483.63,208.5 508.77,208.5 515.95,208.5" fill="none" stroke="#222" stroke-width="0.9" stroke-dasharray="8 2.5"/>
<circle cx="343.55" cy="344.12" r="2" fill="#111" stroke="#111" stroke-width="0.3"/>
<circle cx="386.65" cy="247.25" r="2" fill="#111" stroke="#111" stroke-width="0.3"/>
<circle cx="408.2" cy="213.34" r="2" fill="#111" stroke="#111" stroke-width="0.3"/>
<circle cx="429.75" cy="208.5" r="2" fill="#111" stroke="#111" stroke-width="0.3"/>
<circle cx="451.3" cy="209.28" r="2" fill="#111" stroke="#111" stroke-width="0.3"/>
<circle cx="472.85" cy="213.15" r="2" fill="#111" stroke="#111" stroke-width="0.3"/>
<circle cx="515.95" cy="224.97" r="2" fill="#111" stroke="#111" stroke-width="0.3"/>
<circle cx="343.55" cy="327.46" r="1.85" fill="#fff" stroke="#111" stroke-width="0.85"/>
<circle cx="386.65" cy="236.01" r="1.85" fill="#fff" stroke="#111" stroke-width="0.85"/>
<circle cx="408.2" cy="211.41" r="1.85" fill="#fff" stroke="#111" stroke-width="0.85"/>
<circle cx="429.75" cy="208.5" r="1.85" fill="#fff" stroke="#111" stroke-width="0.85"/>
<circle cx="451.3" cy="208.5" r="1.85" fill="#fff" stroke="#111" stroke-width="0.85"/>
<circle cx="472.85" cy="210.44" r="1.85" fill="#fff" stroke="#111" stroke-width="0.85"/>
<circle cx="515.95" cy="218.38" r="1.85" fill="#fff" stroke="#111" stroke-width="0.85"/>
<path d="M341.25,284.01 L345.85,284.01 L343.55,288.01 Z" fill="#111" stroke="#111" stroke-width="0.3"/>
<path d="M384.35,214.26 L388.95,214.26 L386.65,218.26 Z" fill="#111" stroke="#111" stroke-width="0.3"/>
<path d="M405.9,208.84 L410.5,208.84 L408.2,212.84 Z" fill="#111" stroke="#111" stroke-width="0.3"/>
<path d="M427.45,206.9 L432.05,206.9 L429.75,210.9 Z" fill="#111" stroke="#111" stroke-width="0.3"/>
<path d="M449,206.9 L453.6,206.9 L451.3,210.9 Z" fill="#111" stroke="#111" stroke-width="0.3"/>
<path d="M470.55,209.61 L475.15,209.61 L472.85,213.61 Z" fill="#111" stroke="#111" stroke-width="0.3"/>
<path d="M513.65,219.49 L518.25,219.49 L515.95,223.49 Z" fill="#111" stroke="#111" stroke-width="0.3"/>
<path d="M341.48,214.81 L345.62,214.81 L343.55,218.41 Z" fill="#fff" stroke="#111" stroke-width="0.8"/>
<path d="M384.58,207.06 L388.72,207.06 L386.65,210.66 Z" fill="#fff" stroke="#111" stroke-width="0.8"/>
<path d="M406.13,207.84 L410.27,207.84 L408.2,211.44 Z" fill="#fff" stroke="#111" stroke-width="0.8"/>
<path d="M427.68,207.06 L431.82,207.06 L429.75,210.66 Z" fill="#fff" stroke="#111" stroke-width="0.8"/>
<path d="M449.23,207.06 L453.37,207.06 L451.3,210.66 Z" fill="#fff" stroke="#111" stroke-width="0.8"/>
<path d="M470.78,207.84 L474.92,207.84 L472.85,211.44 Z" fill="#fff" stroke="#111" stroke-width="0.8"/>
<path d="M513.88,217.52 L518.02,217.52 L515.95,221.12 Z" fill="#fff" stroke="#111" stroke-width="0.8"/>
<rect x="341.85" y="270.16" width="3.4" height="3.4" fill="#111" stroke="#111" stroke-width="0.3"/>
<rect x="384.95" y="216.68" width="3.4" height="3.4" fill="#111" stroke="#111" stroke-width="0.3"/>
<rect x="406.5" y="207.58" width="3.4" height="3.4" fill="#111" stroke="#111" stroke-width="0.3"/>
<rect x="428.05" y="206.8" width="3.4" height="3.4" fill="#111" stroke="#111" stroke-width="0.3"/>
<rect x="449.6" y="206.8" width="3.4" height="3.4" fill="#111" stroke="#111" stroke-width="0.3"/>
<rect x="471.15" y="206.8" width="3.4" height="3.4" fill="#111" stroke="#111" stroke-width="0.3"/>
<rect x="514.25" y="206.8" width="3.4" height="3.4" fill="#111" stroke="#111" stroke-width="0.3"/>
<rect x="440.2" y="287.7" width="91.3" height="65.9" fill="#fff" stroke="#777" stroke-width="0.9"/>
<circle cx="452.4" cy="297" r="1.9" fill="#111" stroke="#111" stroke-width="0.3"/>
<text x="465.5" y="299.01" font-family='"Liberation Sans", sans-serif' font-size="7.25" font-weight="bold" text-anchor="start" fill="#111" stroke="#111" stroke-width="0.2" stroke-linejoin="round" >SiC1Pt(TiO<tspan font-size="4.6" dy="1.6">2</tspan><tspan dy="-1.6"> </tspan>0.6%)</text>
<circle cx="452.4" cy="308.6" r="1.7" fill="#fff" stroke="#111" stroke-width="0.7"/>
<text x="465.5" y="310.61" font-family='"Liberation Sans", sans-serif' font-size="7.25" font-weight="bold" text-anchor="start" fill="#111" stroke="#111" stroke-width="0.2" stroke-linejoin="round" >SiC2Pt(TiO<tspan font-size="4.6" dy="1.6">2</tspan><tspan dy="-1.6"> </tspan>1.1%)</text>
<path d="M450.21,318.78 L454.58,318.78 L452.4,322.58 Z" fill="#111" stroke="#111" stroke-width="0.3"/>
<text x="465.5" y="322.31" font-family='"Liberation Sans", sans-serif' font-size="7.25" font-weight="bold" text-anchor="start" fill="#111" stroke="#111" stroke-width="0.2" stroke-linejoin="round" >SiC3Pt(TiO<tspan font-size="4.6" dy="1.6">2</tspan><tspan dy="-1.6"> </tspan>1.5%)</text>
<path d="M450.44,330.64 L454.35,330.64 L452.4,334.04 Z" fill="#fff" stroke="#111" stroke-width="0.7"/>
<text x="465.5" y="334.01" font-family='"Liberation Sans", sans-serif' font-size="7.25" font-weight="bold" text-anchor="start" fill="#111" stroke="#111" stroke-width="0.2" stroke-linejoin="round" >SiC4Pt(TiO<tspan font-size="4.6" dy="1.6">2</tspan><tspan dy="-1.6"> </tspan>2.2%)</text>
<rect x="450.8" y="341.8" width="3.2" height="3.2" fill="#111" stroke="#111" stroke-width="0.3"/>
<text x="465.5" y="345.41" font-family='"Liberation Sans", sans-serif' font-size="7.25" font-weight="bold" text-anchor="start" fill="#111" stroke="#111" stroke-width="0.2" stroke-linejoin="round" >SiC5Pt(TiO<tspan font-size="4.6" dy="1.6">2</tspan><tspan dy="-1.6"> </tspan>2.5%)</text>
<text x="322.3" y="378" font-family='"Liberation Sans", sans-serif' font-size="8.4" font-weight="bold" text-anchor="middle" fill="#000" stroke="#000" stroke-width="0.24" stroke-linejoin="round" >160</text>
<text x="365.4" y="378" font-family='"Liberation Sans", sans-serif' font-size="8.4" font-weight="bold" text-anchor="middle" fill="#000" stroke="#000" stroke-width="0.24" stroke-linejoin="round" >180</text>
<text x="408.5" y="378" font-family='"Liberation Sans", sans-serif' font-size="8.4" font-weight="bold" text-anchor="middle" fill="#000" stroke="#000" stroke-width="0.24" stroke-linejoin="round" >200</text>
<text x="451.6" y="378" font-family='"Liberation Sans", sans-serif' font-size="8.4" font-weight="bold" text-anchor="middle" fill="#000" stroke="#000" stroke-width="0.24" stroke-linejoin="round" >220</text>
<text x="494.7" y="378" font-family='"Liberation Sans", sans-serif' font-size="8.4" font-weight="bold" text-anchor="middle" fill="#000" stroke="#000" stroke-width="0.24" stroke-linejoin="round" >240</text>
<text x="537.8" y="378" font-family='"Liberation Sans", sans-serif' font-size="8.4" font-weight="bold" text-anchor="middle" fill="#000" stroke="#000" stroke-width="0.24" stroke-linejoin="round" >260</text>
<text x="315.8" y="366.5" font-family='"Liberation Sans", sans-serif' font-size="8.4" font-weight="bold" text-anchor="end" fill="#000" stroke="#000" stroke-width="0.24" stroke-linejoin="round" >20</text>
<text x="315.8" y="327.75" font-family='"Liberation Sans", sans-serif' font-size="8.4" font-weight="bold" text-anchor="end" fill="#000" stroke="#000" stroke-width="0.24" stroke-linejoin="round" >40</text>
<text x="315.8" y="289" font-family='"Liberation Sans", sans-serif' font-size="8.4" font-weight="bold" text-anchor="end" fill="#000" stroke="#000" stroke-width="0.24" stroke-linejoin="round" >60</text>
<text x="315.8" y="250.25" font-family='"Liberation Sans", sans-serif' font-size="8.4" font-weight="bold" text-anchor="end" fill="#000" stroke="#000" stroke-width="0.24" stroke-linejoin="round" >80</text>
<text x="315.8" y="211.5" font-family='"Liberation Sans", sans-serif' font-size="8.4" font-weight="bold" text-anchor="end" fill="#000" stroke="#000" stroke-width="0.24" stroke-linejoin="round" >100</text>
<text x="428.4" y="393.6" font-family='"Liberation Sans", sans-serif' font-size="8.6" font-weight="bold" text-anchor="middle" fill="#000" stroke="#000" stroke-width="0.24" stroke-linejoin="round" >Temperature (<tspan font-size="4.5" dy="-3" font-weight="normal">o</tspan><tspan dy="3" font-size="7.5" font-weight="normal">C</tspan>)</text>
<text x="294.6" y="285.5" font-family='"Liberation Sans", sans-serif' font-size="8.35" font-weight="bold" text-anchor="middle" fill="#000" stroke="#000" stroke-width="0.23" stroke-linejoin="round" transform="rotate(-90 294.6 285.5)" >NO conversion (%)</text>
<text x="321.6" y="359.5" font-family='"Liberation Serif", serif' font-size="20.8" font-weight="bold" text-anchor="start" fill="#000" letter-spacing="0.45" >(d)</text>
</svg>
</body></html>
